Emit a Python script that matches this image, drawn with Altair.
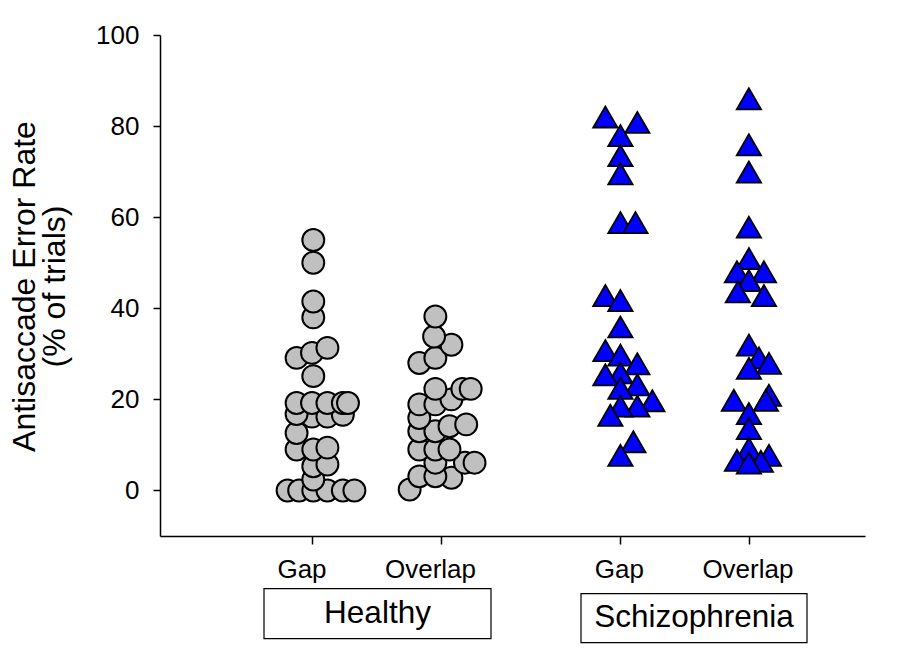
import altair as alt
import pandas as pd

# ---- data ----
groups = ["Healthy", "Schizophrenia"]
conditions = ["Gap", "Overlap", "Gap", "Overlap"]
tick_pos = [1.0, 2.0, 3.4, 4.4]

# Healthy / Gap : error rate (%) and horizontal swarm offset (axis units)
hg_y = [55.0, 50.0, 41.5, 38.0, 29.1, 30.2, 31.3, 25.1, 19.2, 19.2, 19.2, 19.2, 19.2,
        16.8, 16.2, 16.2, 16.6, 12.6, 9.0, 9.0, 9.4, 5.3, 5.7, 2.4, 0, 0, 0, 0, 0, 0]
hg_dx = [0.01, 0.01, 0.01, 0.01, -0.12, 0.0, 0.12, 0.01, -0.12, 0.0, 0.12, 0.24, 0.28,
         -0.12, 0.0, 0.12, 0.24, -0.12, -0.12, 0.01, 0.12, 0.01, 0.12, 0.01,
         -0.19, -0.10, 0.01, 0.12, 0.24, 0.33]

# Healthy / Overlap
ho_y = [38.2, 33.8, 32.0, 28.0, 29.1, 22.3, 22.3, 22.3, 20.0, 18.9, 18.9, 15.9, 13.0,
        13.0, 14.1, 14.5, 9.0, 9.0, 9.0, 6.1, 6.1, 6.1, 3.1, 3.1, 2.8, 0.2]
ho_dx = [-0.04, -0.05, 0.085, -0.165, -0.04, -0.04, 0.17, 0.235, 0.085, -0.165, -0.04,
         -0.165, -0.165, -0.04, 0.07, 0.20, -0.165, -0.04, 0.07, -0.04, 0.19, 0.265,
         -0.165, -0.04, 0.085, -0.24]

# Schizophrenia / Gap
sg_y = [82.0, 80.8, 77.9, 73.5, 69.5, 58.8, 58.8, 42.8, 41.7, 35.9, 30.7, 29.7, 27.8,
        25.4, 25.8, 22.4, 23.2, 19.7, 18.5, 18.5, 16.5, 10.7, 7.7]
sg_dx = [-0.117, 0.132, 0.0, 0.0, 0.0, 0.0, 0.117, -0.117, 0.0, 0.0, -0.117, 0.0, 0.132,
         -0.117, 0.0, 0.0, 0.132, 0.249, 0.132, 0.0, -0.078, 0.101, 0.0]

# Schizophrenia / Overlap
so_y = [86.0, 75.9, 69.9, 57.8, 50.9, 48.0, 48.0, 46.1, 43.6, 42.8, 31.9, 29.1, 27.9,
        26.8, 19.8, 20.9, 19.8, 16.9, 13.6, 9.2, 6.6, 6.4, 7.7, 6.0]
so_dx = [0.0, 0.0, 0.0, 0.0, 0.0, -0.093, 0.117, 0.0, -0.086, 0.117, 0.0, 0.078, 0.156,
         0.0, -0.117, 0.156, 0.132, 0.0, 0.0, 0.0, -0.093, 0.093, 0.156, 0.0]

# ---- build tables ----
def make(group, cond, tick, ys, dxs):
    return pd.DataFrame({"group": group, "condition": cond,
                         "x": [tick + d for d in dxs], "y": ys})

healthy = pd.concat([make("Healthy", "Gap", tick_pos[0], hg_y, hg_dx),
                     make("Healthy", "Overlap", tick_pos[1], ho_y, ho_dx)])
healthy = healthy.sort_values(["y", "x"]).reset_index(drop=True)
healthy["order"] = range(len(healthy))

schizo = pd.concat([make("Schizophrenia", "Gap", tick_pos[2], sg_y, sg_dx),
                    make("Schizophrenia", "Overlap", tick_pos[3], so_y, so_dx)])
schizo = schizo.sort_values(["y"], ascending=False).reset_index(drop=True)
schizo["order"] = range(len(schizo))

ticks_df = pd.DataFrame({"x": tick_pos, "label": conditions,
                         "group": ["Healthy", "Healthy", "Schizophrenia", "Schizophrenia"]})

# px -> axis unit helpers for annotation layout
def ux(p):
    return 1 + (p - 312) / 128.5

def vy(p):
    return (490 - p) / 4.55

boxes = pd.DataFrame({
    "group": groups,
    "x1": [ux(264), ux(581)], "x2": [ux(491), ux(807)],
    "y1": [vy(588), vy(593)], "y2": [vy(638), vy(642)],
})
boxes["xc"] = (boxes["x1"] + boxes["x2"]) / 2
boxes["yc"] = (boxes["y1"] + boxes["y2"]) / 2

FONT = "Liberation Sans"
xscale = alt.Scale(domain=[ux(160), ux(865)], nice=False, zero=False)
yscale = alt.Scale(domain=[-10, 100], nice=False, zero=False)
xaxis = alt.Axis(values=tick_pos, labels=False, tickSize=8, tickColor="black",
                 tickWidth=1.5, domainColor="black", domainWidth=1.5, grid=False,
                 title=None)
yaxis = alt.Axis(values=[0, 20, 40, 60, 80, 100], tickSize=7, tickColor="black",
                 tickWidth=1.5, domainColor="black", domainWidth=1.5, grid=False,
                 labelFontSize=26, labelFont=FONT, labelColor="black", labelPadding=14,
                 title=["Antisaccade Error Rate", "(% of trials)"],
                 titleFontSize=32, titleFont=FONT, titleFontWeight="normal",
                 titleColor="black", titleAngle=-90, titleX=-126, titleY=251,
                 titleAlign="center", titleBaseline="alphabetic", titleLineHeight=30)

def X(field):
    return alt.X(field, type="quantitative", scale=xscale, axis=xaxis)

def Y(field):
    return alt.Y(field, type="quantitative", scale=yscale, axis=yaxis)

circles = alt.Chart(healthy).mark_point(
    shape="circle", filled=True, fill="#c0c0c0", stroke="black", strokeWidth=2,
    size=480, opacity=1
).encode(x=X("x"), y=Y("y"), order=alt.Order("order:Q"))

triangles = alt.Chart(schizo).mark_point(
    shape="triangle-up", filled=True, fill="#0000ff", stroke="black", strokeWidth=1.8,
    size=590, opacity=1
).encode(x=X("x"), y=Y("y"), order=alt.Order("order:Q"))

lab_h = alt.Chart(ticks_df[ticks_df.group == "Healthy"]).mark_text(
    fontSize=26, font=FONT, color="black", baseline="alphabetic", align="center", dx=-10
).encode(x=X("x"), y=alt.Y("yy:Q", scale=yscale, axis=yaxis), text="label:N"
).transform_calculate(yy=str(vy(577)))

lab_s = alt.Chart(ticks_df[ticks_df.group == "Schizophrenia"]).mark_text(
    fontSize=26, font=FONT, color="black", baseline="alphabetic", align="center", dx=-1
).encode(x=X("x"), y=alt.Y("yy:Q", scale=yscale, axis=yaxis), text="label:N"
).transform_calculate(yy=str(vy(577)))

rects = alt.Chart(boxes).mark_rect(
    fill="white", stroke="black", strokeWidth=1.2
).encode(x=X("x1"), x2="x2", y=Y("y1"), y2="y2")

glabels = alt.Chart(boxes).mark_text(
    fontSize=31.5, font=FONT, color="black", baseline="middle", align="center"
).encode(x=X("xc"), y=Y("yc"), text="group:N")

chart = alt.layer(circles, triangles, lab_h, lab_s, rects, glabels).properties(
    width=705, height=501,
    autosize=alt.AutoSizeParams(type="none"),
    padding={"left": 152, "top": 27, "right": 27, "bottom": 116},
).configure(font=FONT, background="white").configure_view(stroke=None)

chart.save("out.html", embed_options={"renderer": "svg", "actions": False})
